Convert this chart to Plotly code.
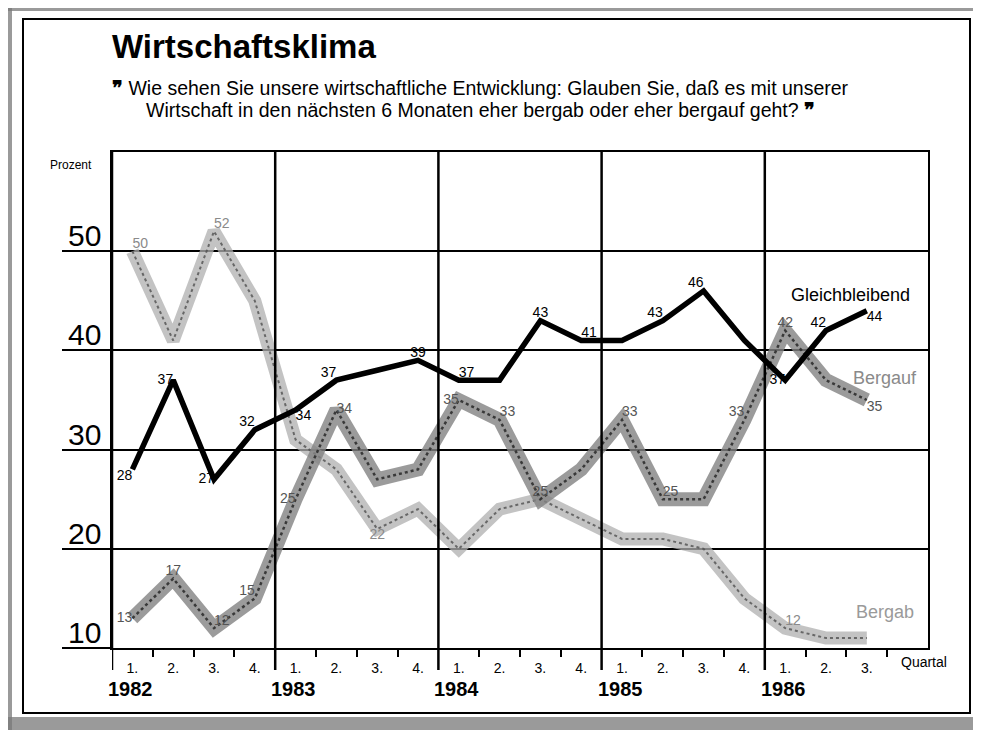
import plotly.graph_objects as go

# ---------------- data ----------------
quarters = ["1.", "2.", "3.", "4.",
            "1.", "2.", "3.", "4.",
            "1.", "2.", "3.", "4.",
            "1.", "2.", "3.", "4.",
            "1.", "2.", "3."]
years = ["1982", "1983", "1984", "1985", "1986"]
year_starts = [0, 4, 8, 12, 16]
x_pos = [i + 0.5 for i in range(len(quarters))]

gleichbleibend = [28, 37, 27, 32, 34, 37, 38, 39, 37, 37, 43, 41, 41, 43, 46, 41, 37, 42, 44]
bergauf = [13, 17, 12, 15, 25, 34, 27, 28, 35, 33, 25, 28, 33, 25, 25, 33, 42, 37, 35]
bergab = [50, 41, 52, 45, 31, 28, 22, 24, 20, 24, 25, 23, 21, 21, 20, 15, 12, 11, 11]

y_ticks = [10, 20, 30, 40, 50]

# which points carry a printed value and where the value sits
g_lab = {0: "bottom left", 1: "middle left", 2: "middle left", 3: "top left", 4: "bottom right",
         5: "top left", 7: "top center", 8: "top right", 10: "top center", 11: "top right",
         13: "top left", 14: "top left", 16: "middle left", 17: "top left", 18: "bottom right"}
a_lab = {0: "middle left", 1: "top center", 2: "top right", 3: "top left", 4: "middle left",
         5: "middle right", 8: "middle left", 9: "top right", 10: "top center", 12: "top right",
         13: "top right", 15: "top left", 16: "top center", 18: "bottom right"}
b_lab = {0: "top right", 2: "top right", 6: "bottom center", 16: "top right"}

OFF = 8                      # page body margin
W, H = 981 - OFF, 730 - OFF
L, R, T, B = 104, 53, 144, 82
PW, PH = W - L - R, H - T - B
FONT = "Liberation Sans"


def px(x):
    return (x - OFF - L) / PW


def py(y):
    return (H - B - (y - OFF)) / PH


def label_trace(vals, labmap, color, size=14):
    txt = [str(v) if i in labmap else "" for i, v in enumerate(vals)]
    pos = [labmap.get(i, "top center") for i in range(len(vals))]
    return go.Scatter(x=x_pos, y=vals, mode="text", text=txt, textposition=pos,
                      textfont=dict(family=FONT, size=size, color=color),
                      hoverinfo="skip", showlegend=False, cliponaxis=False)


fig = go.Figure()

# Bergab band (light stipple)
fig.add_trace(go.Scatter(x=x_pos, y=bergab, mode="lines",
                         line=dict(color="rgba(175,175,175,0.75)", width=13),
                         showlegend=False, hoverinfo="skip"))
fig.add_trace(go.Scatter(x=x_pos, y=bergab, mode="lines",
                         line=dict(color="rgba(80,80,80,0.8)", width=2, dash="dot"),
                         showlegend=False, hoverinfo="skip"))
# Bergauf band (darker stipple)
fig.add_trace(go.Scatter(x=x_pos, y=bergauf, mode="lines",
                         line=dict(color="rgba(130,130,130,0.8)", width=14),
                         showlegend=False, hoverinfo="skip"))
fig.add_trace(go.Scatter(x=x_pos, y=bergauf, mode="lines",
                         line=dict(color="rgba(40,40,40,0.85)", width=2.5, dash="dot"),
                         showlegend=False, hoverinfo="skip"))
# Gleichbleibend (solid black)
fig.add_trace(go.Scatter(x=x_pos, y=gleichbleibend, mode="lines",
                         line=dict(color="black", width=5.5),
                         showlegend=False, hoverinfo="skip"))

fig.add_trace(label_trace(bergab, b_lab, "#8a8a8a"))
fig.add_trace(label_trace(bergauf, a_lab, "#555555"))
fig.add_trace(label_trace(gleichbleibend, g_lab, "black"))

shapes = []
# year separator lines, extending below the axis
for ys in year_starts:
    shapes.append(dict(type="line", xref="x", yref="paper", x0=ys, x1=ys,
                       y0=py(670), y1=1, line=dict(color="black", width=2.5)))
# outer frame of the clipping
shapes.append(dict(type="rect", xref="paper", yref="paper",
                   x0=px(23), x1=px(970), y0=py(713), y1=py(19),
                   line=dict(color="black", width=2), layer="below"))
# scanned edge strips
for (x0, x1, y0, y1) in [(8, 12, 8, 730), (8, 981, 8, 11), (973, 981, 8, 730), (8, 981, 717, 730)]:
    shapes.append(dict(type="rect", xref="paper", yref="paper",
                       x0=px(x0), x1=px(x1), y0=py(y1), y1=py(y0),
                       line=dict(width=0), fillcolor="rgba(120,120,120,0.75)", layer="below"))

annotations = []
# y tick labels sitting on the grid lines
for v in y_ticks:
    annotations.append(dict(x=0, xref="paper", y=v, yref="y", text=str(v), showarrow=False,
                            xanchor="right", yanchor="bottom", xshift=-9, yshift=-3,
                            font=dict(family=FONT, size=30, color="black")))
# year labels
for ys, yr in zip(year_starts, years):
    annotations.append(dict(x=ys, xref="x", y=py(689), yref="paper", text="<b>" + yr + "</b>",
                            showarrow=False, xanchor="left", yanchor="middle", xshift=-6,
                            font=dict(family=FONT, size=20, color="black")))
quote = "<b>❞</b>"
annotations += [
    dict(x=19.5, xref="x", y=py(662), yref="paper", text="Quartal", showarrow=False,
         xanchor="center", yanchor="middle", xshift=16,
         font=dict(family=FONT, size=14, color="black")),
    dict(x=px(48), xref="paper", y=py(165), yref="paper", text="Prozent", showarrow=False,
         xanchor="left", yanchor="middle",
         font=dict(family=FONT, size=12, color="black")),
    dict(x=px(110), xref="paper", y=py(46), yref="paper", text="<b>Wirtschaftsklima</b>",
         showarrow=False, xanchor="left", yanchor="middle",
         font=dict(family=FONT, size=33, color="black")),
    dict(x=px(110), xref="paper", y=py(88), yref="paper",
         text=quote + " Wie sehen Sie unsere wirtschaftliche Entwicklung: Glauben Sie, daß es mit unserer",
         showarrow=False, xanchor="left", yanchor="middle",
         font=dict(family=FONT, size=19.5, color="black")),
    dict(x=px(144), xref="paper", y=py(110), yref="paper",
         text="Wirtschaft in den nächsten 6 Monaten eher bergab oder eher bergauf geht? " + quote,
         showarrow=False, xanchor="left", yanchor="middle",
         font=dict(family=FONT, size=19.5, color="black")),
    dict(x=px(850), xref="paper", y=py(295), yref="paper", text="Gleichbleibend", showarrow=False,
         xanchor="center", yanchor="middle",
         font=dict(family=FONT, size=18, color="black")),
    dict(x=px(885), xref="paper", y=py(378), yref="paper", text="Bergauf", showarrow=False,
         xanchor="center", yanchor="middle",
         font=dict(family=FONT, size=18, color="#8a8a8a")),
    dict(x=px(885), xref="paper", y=py(612), yref="paper", text="Bergab", showarrow=False,
         xanchor="center", yanchor="middle",
         font=dict(family=FONT, size=18, color="#9a9a9a")),
]

fig.update_layout(
    width=W, height=H,
    margin=dict(l=L, r=R, t=T, b=B, pad=0),
    paper_bgcolor="white", plot_bgcolor="white",
    showlegend=False,
    shapes=shapes, annotations=annotations,
    xaxis=dict(range=[0, 20], tickmode="array", tickvals=x_pos, ticktext=quarters,
               ticks="", showgrid=False, zeroline=False,
               showline=True, mirror=True, linecolor="black", linewidth=2,
               ticklabelstandoff=6,
               tickfont=dict(family=FONT, size=14, color="black"),
               minor=dict(tickvals=[i for i in range(1, 20) if i % 4 != 0], ticks="outside",
                          ticklen=7, tickwidth=1.5, tickcolor="black", showgrid=False)),
    yaxis=dict(range=[10, 60], tickmode="array", tickvals=y_ticks, showticklabels=False,
               ticks="outside", ticklen=48, tickwidth=1.5, tickcolor="black",
               showgrid=True, gridcolor="black", gridwidth=1.5, zeroline=False,
               showline=True, mirror=True, linecolor="black", linewidth=2),
)

fig.write_html("out.html")
